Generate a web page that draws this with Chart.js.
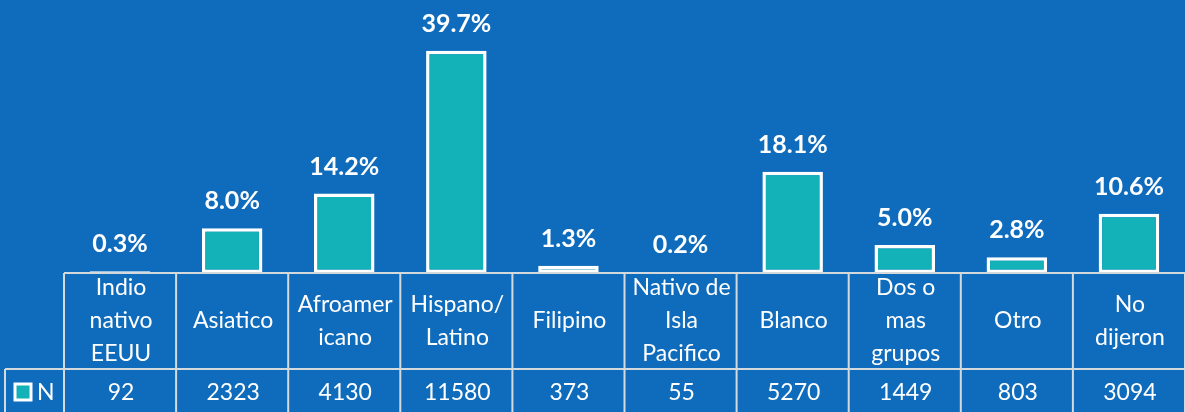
<!DOCTYPE html>
<html>
<head>
<meta charset="utf-8">
<script src="https://cdn.jsdelivr.net/npm/chart.js@4/dist/chart.umd.min.js"></script>
<style>
  html, body { margin: 0; padding: 0; background: #0F6CBD; }
  #wrap { width: 1185px; height: 412px; position: relative; }
</style>
</head>
<body>
<div id="wrap"><canvas id="grupos"></canvas></div>
<script>
var categories = [
	["Indio", "nativo", "EEUU"],
	["Asiatico"],
	["Afroamer", "icano"],
	["Hispano/", "Latino"],
	["Filipino"],
	["Nativo de", "Isla", "Pacifico"],
	["Blanco"],
	["Dos o", "mas", "grupos"],
	["Otro"],
	["No", "dijeron"]
];
var percents = [0.3, 8.0, 14.2, 39.7, 1.3, 0.2, 18.1, 5.0, 2.8, 10.6];
var counts = [92, 2323, 4130, 11580, 373, 55, 5270, 1449, 803, 3094];
var seriesName = "N";

var bg = "#0F6CBD";
var teal = "#12B2B8";
var lineCol = "#D4D9DE";
var font = "Lato, 'Open Sans', sans-serif";

// data table + value labels drawn on top of the bars
var tablePlugin = {
	id: "tabla",
	afterDraw: function(chart) {
		var ctx = chart.ctx;
		var x = chart.scales.x;
		var area = chart.chartArea;
		var top = area.bottom;
		var rowY = top + 96;
		var bottom = chart.height;
		var n = percents.length;

		var edges = [area.left];
		for (var i = 0; i < n - 1; i++) {
			edges.push((x.getPixelForValue(i) + x.getPixelForValue(i + 1)) / 2);
		}
		edges.push(area.right);

		ctx.save();
		ctx.strokeStyle = lineCol;
		ctx.lineWidth = 2;
		ctx.beginPath();
		ctx.moveTo(area.left, top); ctx.lineTo(area.right, top);
		ctx.moveTo(5, rowY); ctx.lineTo(area.right, rowY);
		ctx.moveTo(5, rowY); ctx.lineTo(5, bottom);
		for (var e = 0; e < edges.length; e++) {
			ctx.moveTo(edges[e], top); ctx.lineTo(edges[e], bottom);
		}
		ctx.stroke();

		ctx.fillStyle = "#fff";
		ctx.textAlign = "center";
		ctx.textBaseline = "middle";
		ctx.font = "23px " + font;
		for (var c = 0; c < n; c++) {
			var cx = x.getPixelForValue(c) + 1;
			var lines = categories[c];
			var mid = (top + rowY) / 2;
			var lh = 33;
			var y0 = mid - (lines.length - 1) * lh / 2;
			for (var l = 0; l < lines.length; l++) {
				ctx.fillText(lines[l], cx, y0 + l * lh);
			}
			ctx.fillText(String(counts[c]), cx, (rowY + bottom) / 2 + 2);
		}

		// legend key
		ctx.fillStyle = teal;
		ctx.fillRect(15, 384, 16, 16);
		ctx.strokeStyle = "#fff";
		ctx.lineWidth = 3;
		ctx.strokeRect(15, 384, 16, 16);
		ctx.fillStyle = "#fff";
		ctx.textAlign = "left";
		ctx.fillText(seriesName, 37, (rowY + bottom) / 2 + 2);

		// value labels
		var meta = chart.getDatasetMeta(0);
		ctx.textAlign = "center";
		ctx.font = "bold 25px " + font;
		meta.data.forEach(function(bar, i) {
			ctx.fillText(percents[i].toFixed(1) + "%", bar.x, bar.y - 27);
		});
		ctx.restore();
	}
};

var grafica = new Chart("grupos", {
	type: "bar",
	data: {
		labels: categories,
		datasets: [{
			label: seriesName,
			data: percents,
			backgroundColor: teal,
			borderColor: "#fff",
			borderWidth: 3.5,
			borderSkipped: false,
			categoryPercentage: 1,
			barPercentage: 0.54
		}]
	},
	options: {
		responsive: true,
		maintainAspectRatio: false,
		animation: false,
		layout: { padding: { left: 64, right: 0, top: 49, bottom: 139 } },
		plugins: { legend: { display: false }, tooltip: { enabled: false } },
		scales: {
			x: { display: false },
			y: { display: false, min: 0, max: 40 }
		}
	},
	plugins: [tablePlugin]
});
</script>
</body>
</html>
